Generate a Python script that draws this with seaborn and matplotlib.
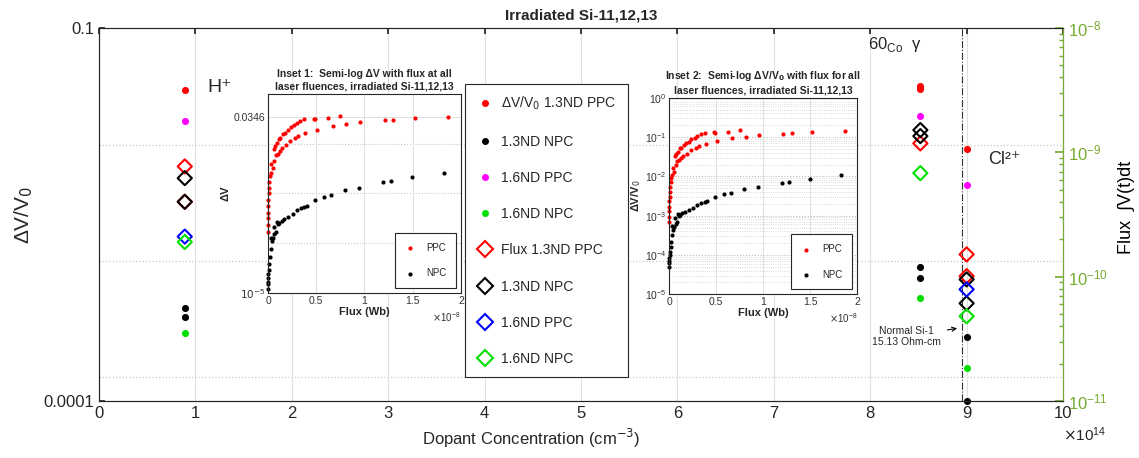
import numpy as np
import pandas as pd
import seaborn as sns
import matplotlib.pyplot as plt
from matplotlib.lines import Line2D
from matplotlib.ticker import NullLocator, ScalarFormatter

# ---- main plot data: dopant concentration (cm^-3) vs dV/V0 (dots) and flux (diamonds)
dv_ppc13_x = [0.89e14, 8.52e14, 8.52e14, 9.0e14]
dv_ppc13_y = [0.0316, 0.0342, 0.0324, 0.0106]
dv_npc13_x = [0.89e14, 0.89e14, 8.52e14, 8.52e14, 9.0e14, 9.0e14]
dv_npc13_y = [5.6e-4, 4.7e-4, 1.2e-3, 9.7e-4, 3.3e-4, 1.0e-4]
dv_ppc16_x = [0.89e14, 8.52e14, 9.0e14]
dv_ppc16_y = [0.018, 0.0197, 5.5e-3]
dv_npc16_x = [0.89e14, 8.52e14, 9.0e14]
dv_npc16_y = [3.55e-4, 6.7e-4, 1.85e-4]

fx_ppc13_x = [0.89e14, 0.89e14, 8.52e14, 9.0e14, 9.0e14]
fx_ppc13_y = [7.7e-10, 4.0e-10, 1.18e-9, 1.51e-10, 1.01e-10]
fx_npc13_x = [0.89e14, 0.89e14, 8.52e14, 8.52e14, 9.0e14, 9.0e14]
fx_npc13_y = [6.2e-10, 4.0e-10, 1.51e-9, 1.35e-9, 9.5e-11, 6.1e-11]
fx_ppc16_x = [0.89e14, 9.0e14]
fx_ppc16_y = [2.1e-10, 7.9e-11]
fx_npc16_x = [0.89e14, 8.52e14, 9.0e14]
fx_npc16_y = [1.9e-10, 6.8e-10, 4.8e-11]

# ---- inset data: flux (x1e-8 Wb), dV (inset 1) and dV/V0 (inset 2)
ppc_flux = [1.87, 1.52, 1.30, 1.21, 0.95,
            0.75, 0.62, 0.49, 0.475, 0.376, 0.333, 0.298, 0.27, 0.234, 0.209, 0.181,
            0.156, 0.128, 0.113, 0.092, 0.071, 0.057,
            0.812, 0.67, 0.51, 0.387, 0.316, 0.28, 0.227, 0.184, 0.149, 0.12, 0.103,
            0.085, 0.067, 0.05, 0.035,
            0.032, 0.021, 0.014, 0.011, 0.007, 0.004, 0.0, 0.0, 0.0, 0.0, 0.0]
ppc_dvv0 = [0.142, 0.134, 0.124, 0.121, 0.110,
            0.148, 0.137, 0.129, 0.131, 0.129, 0.117, 0.108, 0.096, 0.087, 0.076, 0.069,
            0.063, 0.054, 0.052, 0.042, 0.036, 0.032,
            0.102, 0.092, 0.079, 0.066, 0.060, 0.054, 0.047, 0.038, 0.033, 0.029, 0.026,
            0.024, 0.019, 0.013, 0.016,
            0.0108, 0.0089, 0.0070, 0.0055, 0.0041, 0.0030, 0.0023, 0.0017, 0.0013, 0.00094, 0.00070]
ppc_dv = [0.0346, 0.0327, 0.0303, 0.0295, 0.0268,
          0.0361, 0.0334, 0.0315, 0.0320, 0.0315, 0.0285, 0.0264, 0.0234, 0.0212, 0.0185, 0.0168,
          0.0154, 0.0132, 0.0127, 0.0102, 0.0088, 0.0078,
          0.0249, 0.0224, 0.0193, 0.0161, 0.0146, 0.0132, 0.0115, 0.0093, 0.0081, 0.0071, 0.0063,
          0.0059, 0.0046, 0.0032, 0.0039,
          0.0026, 0.0022, 0.0017, 0.0013, 0.0010, 0.00073, 0.00056, 0.00041, 0.00032, 0.00023, 0.00017]

npc_flux = [1.827, 1.497, 1.277, 1.196, 0.94, 0.80, 0.653, 0.58, 0.483, 0.40,
            0.375, 0.34, 0.30, 0.255, 0.21, 0.163, 0.14, 0.113, 0.10, 0.09,
            0.085, 0.067, 0.06, 0.05, 0.04, 0.033, 0.03, 0.02, 0.014, 0.007,
            0.003, 0.0, 0.0, 0.0, 0.0]
npc_dvv0 = [0.0106, 0.0087, 0.0073, 0.0069, 0.0054, 0.0047, 0.0038, 0.0035, 0.0030, 0.00235,
            0.0022, 0.0021, 0.00187, 0.00155, 0.0014, 0.00125, 0.00115, 0.00105, 0.00098, 0.0011,
            0.0007, 0.00063, 0.00085, 0.00053, 0.00044, 0.00055, 0.00032, 0.00022, 0.00016, 0.00012,
            0.0001, 8.3e-5, 7e-5, 6.2e-5, 5e-5]
npc_dv = [0.0026, 0.0021, 0.0018, 0.0017, 0.0013, 0.00115, 0.00093, 0.00085, 0.00073, 0.00057,
          0.00054, 0.00051, 0.00046, 0.00038, 0.00034, 0.00031, 0.00028, 0.00026, 0.00024, 0.00027,
          0.00017, 0.00015, 0.00021, 0.00013, 0.00011, 0.00013, 7.8e-5, 5.4e-5, 3.9e-5, 2.9e-5,
          2.4e-5, 2.0e-5, 1.7e-5, 1.5e-5, 1.2e-5]

OLIVE = '#77AC30'
AXC = '#262626'


class PlainSci(ScalarFormatter):
    # MATLAB-like tick labels (0, 0.5, 1 ...) with a x10^n multiplier
    def __init__(self, power):
        super().__init__(useMathText=True)
        self.set_powerlimits((power, power))

    def _set_format(self):
        self.format = '%g'


sns.set_theme(style='white')
plt.rcParams['font.family'] = ['Liberation Sans', 'DejaVu Sans']
plt.rcParams['axes.edgecolor'] = AXC
plt.rcParams['axes.linewidth'] = 0.8

fig = plt.figure(figsize=(11.39, 4.58), dpi=100)
ax = fig.add_axes([0.0869, 0.1245, 0.8464, 0.8144])
ax2 = ax.twinx()

# dots -> dV/V0 (left axis)
dots = [(dv_ppc13_x, dv_ppc13_y, 'red', 'ΔV/V$_0$ 1.3ND PPC'),
        (dv_npc13_x, dv_npc13_y, 'black', '1.3ND NPC'),
        (dv_ppc16_x, dv_ppc16_y, 'magenta', '1.6ND PPC'),
        (dv_npc16_x, dv_npc16_y, '#00e000', '1.6ND NPC')]
for xs, ys, c, lab in dots:
    sns.scatterplot(x=xs, y=ys, color=c, s=26, linewidth=0, ax=ax, zorder=3, clip_on=False)

# diamonds -> flux (right axis)
diams = [(fx_ppc13_x, fx_ppc13_y, 'red', 'Flux 1.3ND PPC'),
         (fx_npc13_x, fx_npc13_y, 'black', '1.3ND NPC'),
         (fx_ppc16_x, fx_ppc16_y, 'blue', '1.6ND PPC'),
         (fx_npc16_x, fx_npc16_y, '#00e000', '1.6ND NPC')]
for xs, ys, c, lab in diams:
    sns.scatterplot(x=xs, y=ys, marker='D', color=c, facecolor='none', edgecolor=c,
                    linewidth=1.5, s=52, ax=ax2, zorder=3)

ax.set_xlim(0, 1e15)
ax.set_xticks(np.arange(0, 11) * 1e14)
ax.xaxis.set_major_formatter(PlainSci(14))
ax.xaxis.get_offset_text().set_fontsize(11)
ax.xaxis.get_offset_text().set_x(1.045)
ax.set_yscale('log')
ax.set_ylim(1e-4, 1e-1)
ax.set_yticks([1e-4, 1e-1])
ax.set_yticklabels(['0.0001', '0.1'])
ax.yaxis.set_minor_locator(NullLocator())
ax.tick_params(axis='both', direction='in', labelsize=12, top=True, length=4, color=AXC)
ax.grid(axis='x', color='#e0e0e0', lw=0.8)
for yv in [0.0114, 1.33e-3, 1.56e-4]:
    ax.axhline(yv, color='#c8c8c8', ls=':', lw=0.9, zorder=0)
ax.set_xlabel('Dopant Concentration (cm$^{-3}$)', fontsize=12)
ax.xaxis.set_label_coords(0.448, -0.07)
ax.set_ylabel('ΔV/V$_0$', fontsize=15)
ax.yaxis.set_label_coords(-0.066, 0.5)
ax.set_title('Irradiated Si-11,12,13', fontsize=11, fontweight='bold', pad=6)

ax2.set_yscale('log')
ax2.set_ylim(1e-11, 1e-8)
ax2.tick_params(axis='y', which='both', direction='in', colors=OLIVE, labelsize=12)
ax2.tick_params(axis='y', which='minor', length=3)
ax2.spines['right'].set_color(OLIVE)
ax2.set_ylabel('Flux  ∫V(t)dt', fontsize=13, color='black')
ax2.yaxis.set_label_coords(1.057, 0.52)

# vertical reference line and labels
ax2.axvline(8.95e14, color='#333333', ls='-.', lw=0.8)
ax.text(1.12e14, 0.033, 'H⁺', fontsize=14, va='center')
ax.text(7.98e14, 0.074, '60$_{\\mathregular{Co}}$  γ', fontsize=12, va='center')
ax.text(9.22e14, 8.7e-3, 'Cl²⁺', fontsize=13, va='center')
ax.annotate('Normal Si-1\n15.13 Ohm-cm', xy=(8.93e14, 3.87e-4), xytext=(8.38e14, 3.3e-4),
            fontsize=7.5, ha='center', va='center',
            arrowprops=dict(arrowstyle='->', lw=0.8, color='black'))

# combined legend
handles = [Line2D([], [], ls='', marker='o', color=c, markersize=4) for _, _, c, _ in dots]
handles += [Line2D([], [], ls='', marker='D', color=c, mfc='none', mew=1.5, markersize=8)
            for _, _, c, _ in diams]
labels = [d[3] for d in dots] + [d[3] for d in diams]
leg = ax2.legend(handles, labels, loc='upper left', bbox_to_anchor=(0.38, 0.85),
                 borderaxespad=0, fontsize=10, labelspacing=1.6, handlelength=1.2,
                 handletextpad=0.6, borderpad=0.8, fancybox=False, framealpha=1,
                 edgecolor=AXC)
leg.get_frame().set_linewidth(0.8)


def style_inset(a):
    a.set_xlim(0, 2e-8)
    a.set_xticks(np.arange(0, 2.01, 0.5) * 1e-8)
    a.xaxis.set_major_formatter(PlainSci(-8))
    a.xaxis.get_offset_text().set_fontsize(7)
    a.xaxis.get_offset_text().set_color('#555555')
    a.tick_params(axis='both', which='both', direction='in', labelsize=7.5, length=3,
                  labelcolor='#333333', pad=2)
    a.grid(axis='x', color='#e0e0e0', lw=0.7)
    a.set_xlabel('Flux (Wb)', fontsize=8, fontweight='bold', labelpad=1)
    lg = a.legend(loc='lower right', fontsize=7, fancybox=False, framealpha=1,
                  edgecolor=AXC, labelspacing=1.6, handletextpad=1.2, borderpad=1.0,
                  handlelength=1.0, markerscale=1.0)
    lg.get_frame().set_linewidth(0.8)


# inset 1: dV
ins1 = fig.add_axes([0.2353, 0.3603, 0.1694, 0.4345])
sns.scatterplot(x=np.array(ppc_flux) * 1e-8, y=ppc_dv, color='red', s=9, linewidth=0,
                ax=ins1, label='PPC', clip_on=False)
sns.scatterplot(x=np.array(npc_flux) * 1e-8, y=npc_dv, color='black', s=9, linewidth=0,
                ax=ins1, label='NPC', clip_on=False)
ins1.set_yscale('log')
ins1.set_ylim(1e-5, 1e-1)
ins1.set_yticks([1e-5, 0.0346])
ins1.set_yticklabels(['$10^{-5}$', '0.0346'])
ins1.yaxis.set_minor_locator(NullLocator())
ins1.grid(axis='y', color='#e0e0e0', lw=0.7)
for yv in [1e-4, 1e-3, 1e-2]:
    ins1.axhline(yv, color='#c8c8c8', ls=':', lw=0.8, zorder=0)
ins1.set_ylabel('ΔV', fontsize=8, fontweight='bold', labelpad=2)
ins1.set_title('Inset 1:  Semi-log ΔV with flux at all\nlaser fluences, irradiated Si-11,12,13',
               fontsize=7.5, fontweight='bold', pad=3, linespacing=1.3)
style_inset(ins1)

# inset 2: dV/V0
ins2 = fig.add_axes([0.5876, 0.3574, 0.1651, 0.4293])
sns.scatterplot(x=np.array(ppc_flux) * 1e-8, y=ppc_dvv0, color='red', s=9, linewidth=0,
                ax=ins2, label='PPC', clip_on=False)
sns.scatterplot(x=np.array(npc_flux) * 1e-8, y=npc_dvv0, color='black', s=9, linewidth=0,
                ax=ins2, label='NPC', clip_on=False)
ins2.set_yscale('log')
ins2.set_ylim(1e-5, 1)
ins2.grid(axis='y', which='major', color='#bbbbbb', ls=':', lw=0.8)
ins2.grid(axis='y', which='minor', color='#d0d0d0', ls=':', lw=0.6)
ins2.set_ylabel('ΔV/V$_0$', fontsize=8, fontweight='bold', labelpad=1)
ins2.set_title('Inset 2:  Semi-log ΔV/V$_\\mathbf{0}$ with flux for all\nlaser fluences, irradiated Si-11,12,13',
               fontsize=7.5, fontweight='bold', pad=3, linespacing=1.3)
style_inset(ins2)

fig.savefig('out.png', dpi=100)
